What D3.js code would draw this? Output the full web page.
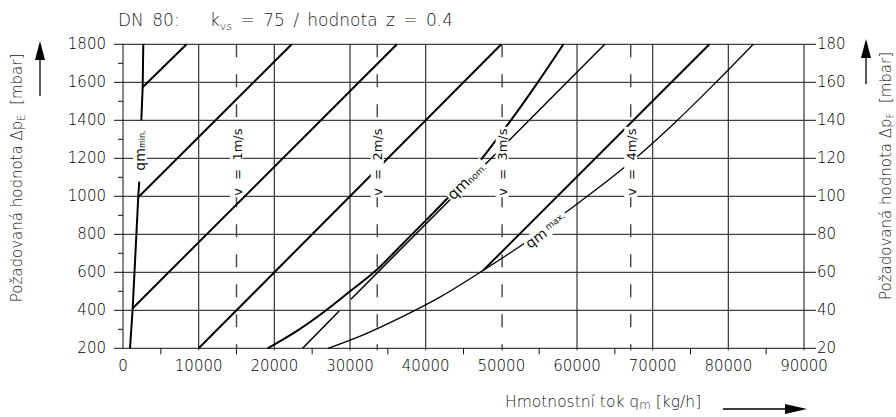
<!DOCTYPE html>
<html><head><meta charset="utf-8">
<script src="https://cdn.jsdelivr.net/npm/d3@7"></script>
<style>
html,body{margin:0;padding:0;background:#fff;}
svg{display:block;font-family:"DejaVu Sans",sans-serif;}
</style></head><body>
<svg id="chart" width="896" height="417"></svg>
<script>
// ---- data ----
const xTicks = [0,10000,20000,30000,40000,50000,60000,70000,80000,90000];
const xGridValues = [10000,20000,30000,40000,60000,70000,80000,90000];
const xMinorTicks = [5000,15000,25000,35000,45000,55000,65000,75000,85000];
const yTicks = [200,400,600,800,1000,1200,1400,1600,1800];
const yMinorTicks = [300,500,700,900,1100,1300,1500,1700];
const yRightTicks = [20,40,60,80,100,120,140,160,180];
const velocityValues = [15000,33600,50100,67100];
const velocityLabels = ["1m/s","2m/s","3m/s","4m/s"];

const qmMinCurve = [[925,200],[1280,411],[2020,1000],[2150,1077],null,[2420,1400],[2600,1574],[2680,1800]];
const lineA = [[2600,1574],[8400,1800]];
const lineB = [[2020,995],[22300,1800]];
const lineC = [[1280,411],[36200,1800]];
const lineD = [[10000,200],[50000,1800]];
const lineF = [[23740,200],[28570,396],null,[30120,458],[63670,1800]];
const lineI = [[47600,610],[77500,1800]];
const qmNomCurve = [[19100,200],[23000,292],[26500,390],[30000,500],[33500,612],[37000,752],[40000,872],[43000,995],[46000,1128],[49000,1280],[52000,1440],[55000,1610],[58200,1800]];
const qmMaxCurve = [[27100,200],[32000,275],[37000,368],[42000,472],[47600,610],[53000,752],[58000,900],[63000,1050],[68000,1210],[73000,1390],[78000,1585],[83300,1800]];

// ---- scales ----
const svg = d3.select("#chart");
const x = d3.scaleLinear().domain([0,90000]).range([123,804]);
const y = d3.scaleLinear().domain([200,1800]).range([348.3,44.3]);
const yR = d3.scaleLinear().domain([20,180]).range([348.3,44.3]);

const grid = svg.append("g");
grid.selectAll(".hg").data(yTicks).enter().append("line")
  .attr("x1", x(0)-9).attr("x2", x(90000)+12)
  .attr("y1", d=>y(d)).attr("y2", d=>y(d))
  .attr("stroke","#111").attr("stroke-width",1);
grid.selectAll(".ym").data(yMinorTicks).enter().append("line")
  .attr("x1", x(0)-5).attr("x2", x(0))
  .attr("y1", d=>y(d)).attr("y2", d=>y(d))
  .attr("stroke","#111").attr("stroke-width",1);
grid.append("line").attr("x1",x(0)).attr("x2",x(0)).attr("y1",y(1800)).attr("y2",y(200))
  .attr("stroke","#111").attr("stroke-width",1);
grid.selectAll(".vg").data(xGridValues).enter().append("line")
  .attr("x1", d=>x(d)).attr("x2", d=>x(d))
  .attr("y1", y(1800)).attr("y2", y(200)+2)
  .attr("stroke", "#333").attr("stroke-width",1.2);
grid.selectAll(".xm").data(xMinorTicks).enter().append("line")
  .attr("x1", d=>x(d)).attr("x2", d=>x(d))
  .attr("y1", y(200)).attr("y2", y(200)+6)
  .attr("stroke","#111").attr("stroke-width",1);

grid.selectAll(".vel").data(velocityValues).enter().append("line")
  .attr("x1", d=>x(d)).attr("x2", d=>x(d))
  .attr("y1", y(1800)).attr("y2", y(200)+2)
  .attr("stroke","#444").attr("stroke-width",1.4)
  .attr("stroke-dasharray","13,17");

const line = d3.line().defined(d=>d!==null).x(d=>x(d[0])).y(d=>y(d[1]));
const curve = d3.line().defined(d=>d!==null).x(d=>x(d[0])).y(d=>y(d[1])).curve(d3.curveMonotoneX);
const marks = svg.append("g").attr("fill","none").attr("stroke","#000").attr("stroke-linecap","butt");
marks.append("path").attr("d", line(qmMinCurve)).attr("stroke-width",2);
[lineA,lineB,lineC,lineD,lineI].forEach(l=>marks.append("path").attr("d", line(l)).attr("stroke-width",2));
marks.append("path").attr("d", line(lineF)).attr("stroke-width",1.5);
marks.append("path").attr("d", curve(qmNomCurve)).attr("stroke-width",2);
marks.append("path").attr("d", curve(qmMaxCurve)).attr("stroke-width",1.3);

function label(px, py, angle, parts, anchor) {
  const g = svg.append("g").attr("transform", `translate(${px},${py}) rotate(${angle})`);
  const t = g.append("text").attr("text-anchor", anchor||"start")
    .attr("dominant-baseline","central").attr("fill","#111")
    .style("white-space","pre");
  parts.forEach(p=>{
    const ts = t.append("tspan").text(p.t).attr("font-size", p.s);
    if (p.dy) ts.attr("dy", p.dy);
  });
  const b = t.node().getBBox();
  g.insert("rect","text").attr("x",b.x-1.5).attr("y",b.y+1).attr("width",b.width+3).attr("height",b.height-2).attr("fill","#fff");
  return g;
}
velocityValues.forEach((v,i)=>{
  label(x(v), y(1180), -90, [{t:"v  =  "+velocityLabels[i], s:13}], "middle");
});
label(x(2250), y(1135), -90, [{t:"qm", s:14},{t:"min.", s:8, dy:2}], "start");
label(x(43200), y(996), -44, [{t:"qm", s:15},{t:"nom.", s:9, dy:2}], "start");
label(x(53400), y(744), -37, [{t:"qm", s:14},{t:" max.", s:9, dy:-2}], "start");

const tl = svg.append("g").attr("fill","#000").attr("font-size",15).attr("font-weight",200);
tl.selectAll(".yl").data(yTicks).enter().append("text")
  .attr("x", 106).attr("y", d=>y(d)).attr("dominant-baseline","central").attr("text-anchor","end").text(d=>d);
tl.selectAll(".yr").data(yRightTicks).enter().append("text")
  .attr("x", 817).attr("y", d=>yR(d)).attr("dominant-baseline","central").attr("text-anchor","start").text(d=>d);
tl.selectAll(".xl").data(xTicks).enter().append("text")
  .attr("x", d=>x(d)).attr("y", 366).attr("dominant-baseline","central").attr("text-anchor","middle").text(d=>d);

const title = svg.append("text").attr("y", 26).attr("fill","#222").attr("font-size",17).attr("font-weight",200)
  .style("white-space","pre").style("word-spacing","3px");
title.append("tspan").attr("x",118).text("DN 80:");
title.append("tspan").attr("x",210).text("k");
title.append("tspan").attr("font-size",11).attr("dy",4).text("vs");
title.append("tspan").attr("dy",-4).text(" = 75 / hodnota z = 0.4");

function axisTitle(px, py, sub) {
  const t = svg.append("text").attr("transform",`translate(${px},${py}) rotate(-90)`)
    .attr("text-anchor","middle").attr("dominant-baseline","central")
    .attr("fill","#222").attr("font-size",15).attr("font-weight",200).style("white-space","pre");
  t.append("tspan").text("Požadovaná hodnota Δp");
  t.append("tspan").attr("font-size",10).attr("dy",4).text(sub);
  t.append("tspan").attr("dy",-4).text("  [mbar]");
}
axisTitle(17, 178, "E");
axisTitle(886, 176, "F");

const bt = svg.append("text").attr("x",505).attr("y",407).attr("fill","#222").attr("font-size",15.5).attr("font-weight",200).style("white-space","pre");
bt.append("tspan").text("Hmotnostní tok q");
bt.append("tspan").attr("font-size",12).attr("dy",2).text("m");
bt.append("tspan").attr("dy",-2).text(" [kg/h]");

const ar = svg.append("g").attr("stroke","#000").attr("fill","#000");
ar.append("line").attr("x1",40).attr("x2",40).attr("y1",96).attr("y2",58).attr("stroke-width",1.3);
ar.append("path").attr("d","M35,60 L45,60 L40,41 Z").attr("stroke","none");
ar.append("line").attr("x1",866).attr("x2",866).attr("y1",84).attr("y2",56).attr("stroke-width",1.3);
ar.append("path").attr("d","M861,58 L871,58 L866,39 Z").attr("stroke","none");
ar.append("line").attr("x1",723).attr("x2",788).attr("y1",409).attr("y2",409).attr("stroke-width",1.3);
ar.append("path").attr("d","M785,404 L785,414 L807,409 Z").attr("stroke","none");
</script>
</body></html>
